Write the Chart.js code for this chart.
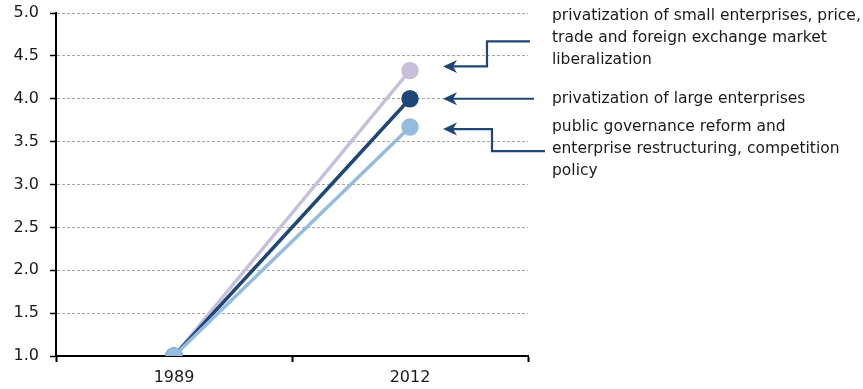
<!DOCTYPE html>
<html>
<head>
<meta charset="utf-8">
<script src="https://cdn.jsdelivr.net/npm/chart.js@4/dist/chart.umd.min.js"></script>
<style>
  html, body { margin: 0; padding: 0; background: #fff; }
  #wrap { width: 863px; height: 389px; position: relative; }
</style>
</head>
<body>
<div id="wrap"><canvas id="c"></canvas></div>
<script>
// Years on the horizontal axis
const years = ['1989', '2012'];

// Reform score per group of reforms
const smallPrivatization = [1.0, 4.33];
const largePrivatization = [1.0, 4.0];
const governanceReform = [1.0, 3.67];

// Series descriptions shown to the right of the plot
const labelSmall = ['privatization of small enterprises, price,', 'trade and foreign exchange market', 'liberalization'];
const labelLarge = ['privatization of large enterprises'];
const labelGovernance = ['public governance reform and', 'enterprise restructuring, competition', 'policy'];

// Value-axis range
const yMin = 1.0, yMax = 5.0, yStep = 0.5;

const FONT = '"DejaVu Sans", sans-serif';
const NAVY = '#1E4677';
const LILAC = '#C8C0DB';
const LIGHT = '#94BCDF';

// Draws the call-out arrows and the descriptive text on the right
const calloutPlugin = {
  id: 'callouts',
  afterDraw(chart) {
    const ctx = chart.ctx;
    const y = chart.scales.y;
    const area = chart.chartArea;
    const tipX = area.right - 85;
    const textX = area.right + 24;
    const lineH = 22;

    const arrow = (pts) => {
      ctx.save();
      ctx.strokeStyle = NAVY;
      ctx.fillStyle = NAVY;
      ctx.lineWidth = 2.2;
      ctx.beginPath();
      ctx.moveTo(pts[0][0] + 8, pts[0][1]);
      for (let i = 1; i < pts.length; i++) ctx.lineTo(pts[i][0], pts[i][1]);
      ctx.stroke();
      // arrow head
      const [hx, hy] = pts[0];
      ctx.beginPath();
      ctx.moveTo(hx, hy);
      ctx.lineTo(hx + 14, hy - 6.5);
      ctx.lineTo(hx + 10, hy);
      ctx.lineTo(hx + 14, hy + 6.5);
      ctx.closePath();
      ctx.fill();
      ctx.restore();
    };

    const ySmall = y.getPixelForValue(smallPrivatization[1]) - 4;
    const yLarge = y.getPixelForValue(largePrivatization[1]);
    const yGov = y.getPixelForValue(governanceReform[1]) + 2;

    arrow([[tipX, ySmall], [area.right - 41, ySmall], [area.right - 41, ySmall - 25], [area.right + 2, ySmall - 25]]);
    arrow([[tipX, yLarge], [area.right + 6, yLarge]]);
    arrow([[tipX, yGov], [area.right - 36, yGov], [area.right - 36, yGov + 22], [area.right + 17, yGov + 22]]);

    ctx.save();
    ctx.fillStyle = '#1a1a1a';
    ctx.font = '15.5px ' + FONT;
    ctx.textBaseline = 'middle';
    ctx.textAlign = 'left';
    labelSmall.forEach((t, i) => ctx.fillText(t, textX, ySmall - 50 + i * lineH));
    labelLarge.forEach((t, i) => ctx.fillText(t, textX, yLarge + i * lineH));
    labelGovernance.forEach((t, i) => ctx.fillText(t, textX, yGov - 2 + i * lineH));
    ctx.restore();
  }
};

const ds = (data, color, order) => ({
  data,
  borderColor: color,
  backgroundColor: color,
  pointBackgroundColor: color,
  pointBorderColor: color,
  borderWidth: 3.5,
  pointRadius: 7,
  pointHoverRadius: 7,
  tension: 0,
  order
});

new Chart(document.getElementById('c'), {
  type: 'line',
  data: {
    labels: years,
    datasets: [
      ds(smallPrivatization, LILAC, 3),
      ds(largePrivatization, NAVY, 2),
      ds(governanceReform, LIGHT, 1)
    ]
  },
  options: {
    responsive: true,
    maintainAspectRatio: false,
    animation: false,
    events: [],
    layout: { padding: { top: 13, right: 335, bottom: 0, left: 0 } },
    plugins: { legend: { display: false }, tooltip: { enabled: false } },
    scales: {
      x: {
        type: 'category',
        offset: true,
        afterFit(scale) { scale.height = 33; },
        border: { display: true, color: '#000', width: 2 },
        grid: {
          offset: true,
          drawOnChartArea: false,
          drawTicks: true,
          tickLength: 6,
          tickColor: '#000',
          tickWidth: 2
        },
        ticks: { color: '#1a1a1a', font: { family: FONT, size: 16 }, padding: 6 }
      },
      y: {
        min: yMin,
        max: yMax,
        afterFit(scale) {
          scale.width = 56;
          scale.paddingTop = 0;
          scale.paddingBottom = 0;
        },
        border: { display: true, color: '#000', width: 2, dash: [3, 2] },
        grid: {
          color: '#A6A6A6',
          lineWidth: 1,
          tickBorderDash: [],
          tickColor: '#000',
          tickWidth: 1.5,
          tickLength: 6
        },
        ticks: {
          stepSize: yStep,
          color: '#1a1a1a',
          font: { family: FONT, size: 16 },
          padding: 11,
          callback: (v) => Number(v).toFixed(1)
        }
      }
    }
  },
  plugins: [calloutPlugin]
});
</script>
</body>
</html>
